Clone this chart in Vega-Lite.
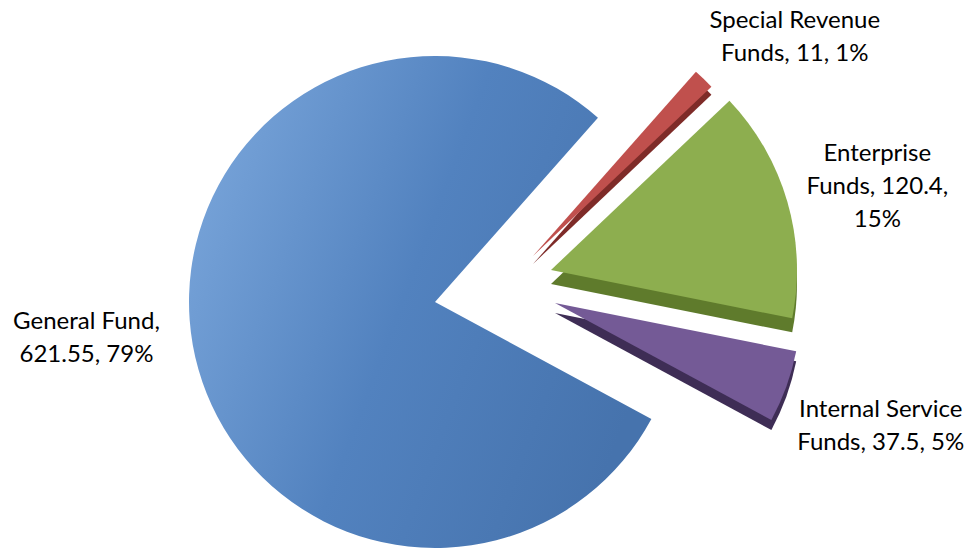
{
  "$schema": "https://vega.github.io/schema/vega-lite/v6.json",
  "width": 870,
  "height": 492,
  "autosize": "none",
  "padding": {"left": 0, "right": 99, "top": 56, "bottom": 0},
  "background": "white",
  "view": {"stroke": null},
  "data": {
    "values": [
      {"category": "Special Revenue Funds", "value": 11, "order": 1, "label": "Special Revenue\nFunds, 11, 1%"},
      {"category": "Enterprise Funds", "value": 120.4, "order": 2, "label": "Enterprise\nFunds, 120.4,\n15%"},
      {"category": "Internal Service Funds", "value": 37.5, "order": 3, "label": "Internal Service\nFunds, 37.5, 5%"},
      {"category": "General Fund", "value": 621.55, "order": 4, "label": "General Fund,\n621.55, 79%"}
    ]
  },
  "encoding": {
    "theta": {
      "field": "value",
      "type": "quantitative",
      "stack": true,
      "scale": {"domain": [0, 790.45], "range": [0.724, 7.0072], "nice": false, "zero": true}
    },
    "order": {"field": "order", "type": "quantitative"}
  },
  "layer": [
    {
      "mark": {"type": "arc", "color": "#7E2B28", "xOffset": 98, "yOffset": -38},
      "encoding": {"opacity": {"condition": {"test": "datum.category === 'Special Revenue Funds'", "value": 1}, "value": 0}}
    },
    {
      "mark": {"type": "arc", "color": "#C0504D", "xOffset": 98, "yOffset": -46},
      "encoding": {"opacity": {"condition": {"test": "datum.category === 'Special Revenue Funds'", "value": 1}, "value": 0}}
    },
    {
      "mark": {"type": "arc", "color": "#5F7B2C", "xOffset": 116, "yOffset": -18},
      "encoding": {"opacity": {"condition": {"test": "datum.category === 'Enterprise Funds'", "value": 1}, "value": 0}}
    },
    {
      "mark": {"type": "arc", "color": "#8DAE4F", "xOffset": 116, "yOffset": -32},
      "encoding": {"opacity": {"condition": {"test": "datum.category === 'Enterprise Funds'", "value": 1}, "value": 0}}
    },
    {
      "mark": {"type": "arc", "color": "#3E2D55", "xOffset": 120, "yOffset": 11},
      "encoding": {"opacity": {"condition": {"test": "datum.category === 'Internal Service Funds'", "value": 1}, "value": 0}}
    },
    {
      "mark": {"type": "arc", "color": "#745A96", "xOffset": 120, "yOffset": 1},
      "encoding": {"opacity": {"condition": {"test": "datum.category === 'Internal Service Funds'", "value": 1}, "value": 0}}
    },
    {
      "mark": {
        "type": "arc",
        "color": {
          "gradient": "linear",
          "x1": 0, "y1": 0.2, "x2": 1, "y2": 0.6,
          "stops": [
            {"offset": 0, "color": "#79A5DA"},
            {"offset": 0.5, "color": "#5282BF"},
            {"offset": 1, "color": "#4673AD"}
          ]
        }
      },
      "encoding": {"opacity": {"condition": {"test": "datum.category === 'General Fund'", "value": 1}, "value": 0}}
    },
    {
      "mark": {"type": "text", "radius": 364, "dx": 107, "dy": -19, "fontSize": 24, "font": "Lato", "lineBreak": "\n", "lineHeight": 33, "align": "center", "baseline": "middle", "color": "black"},
      "encoding": {"text": {"field": "label"}, "opacity": {"condition": {"test": "datum.category === 'Special Revenue Funds'", "value": 1}, "value": 0}}
    },
    {
      "mark": {"type": "text", "radius": 400, "dx": 58, "dy": -37, "fontSize": 24, "font": "Lato", "lineBreak": "\n", "lineHeight": 33, "align": "center", "baseline": "middle", "color": "black"},
      "encoding": {"text": {"field": "label"}, "opacity": {"condition": {"test": "datum.category === 'Enterprise Funds'", "value": 1}, "value": 0}}
    },
    {
      "mark": {"type": "text", "radius": 391, "dx": 78, "dy": -25, "fontSize": 24, "font": "Lato", "lineBreak": "\n", "lineHeight": 33, "align": "center", "baseline": "middle", "color": "black"},
      "encoding": {"text": {"field": "label"}, "opacity": {"condition": {"test": "datum.category === 'Internal Service Funds'", "value": 1}, "value": 0}}
    },
    {
      "mark": {"type": "text", "radius": 357, "dx": 3, "dy": -42, "fontSize": 24, "font": "Lato", "lineBreak": "\n", "lineHeight": 33, "align": "center", "baseline": "middle", "color": "black"},
      "encoding": {"text": {"field": "label"}, "opacity": {"condition": {"test": "datum.category === 'General Fund'", "value": 1}, "value": 0}}
    }
  ]
}
